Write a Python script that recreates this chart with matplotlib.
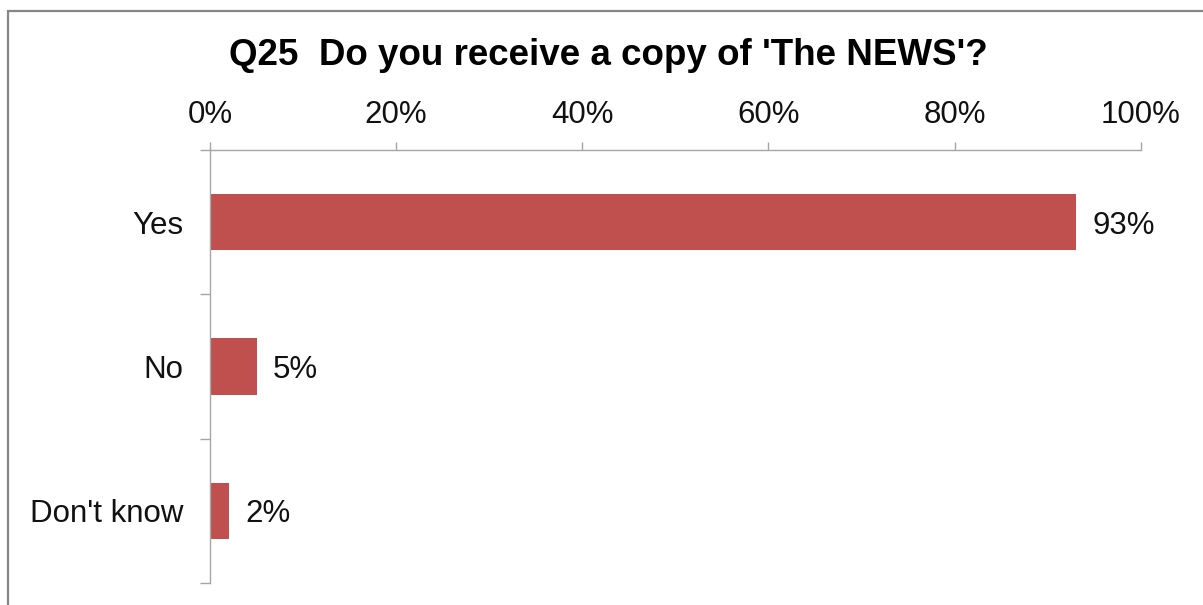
import matplotlib
matplotlib.use("Agg")
import matplotlib.pyplot as plt
from matplotlib.patches import Rectangle
from matplotlib.ticker import FixedLocator, PercentFormatter

categories = ["Yes", "No", "Don't know"]
values = [93, 5, 2]
xticks = [0, 20, 40, 60, 80, 100]
title = "Q25  Do you receive a copy of 'The NEWS'?"

BAR = "#C0504D"
AXIS = "#A6A6A6"
TEXT = "#111111"

plt.rcParams["font.family"] = ["Liberation Sans", "DejaVu Sans"]

fig = plt.figure(figsize=(12.03, 6.05), dpi=100)
ax = fig.add_axes([210 / 1203, 1 - 583 / 605, 930.7 / 1203, 433 / 605])

pos = list(range(len(categories)))
bars = ax.barh(pos, values, height=0.39, color=BAR)

ax.set_xlim(0, 100)
ax.set_ylim(len(categories) - 0.5, -0.5)

ax.xaxis.tick_top()
ax.set_xticks(xticks)
ax.xaxis.set_major_formatter(PercentFormatter(decimals=0))
ax.tick_params(axis="x", which="major", length=6, width=1, color=AXIS,
               labelsize=22.5, pad=8.5, labelcolor=TEXT)

ax.set_yticks(pos)
ax.set_yticklabels(categories)
ax.yaxis.set_minor_locator(FixedLocator([p - 0.5 for p in pos] + [len(pos) - 0.5]))
ax.tick_params(axis="y", which="major", length=0, labelsize=22.5, pad=19,
               labelcolor=TEXT)
ax.tick_params(axis="y", which="minor", length=7, width=1, color=AXIS)

for side in ("right", "bottom"):
    ax.spines[side].set_visible(False)
for side in ("left", "top"):
    ax.spines[side].set_color(AXIS)
    ax.spines[side].set_linewidth(1)

for b, v in zip(bars, values):
    ax.annotate(f"{v}%", (b.get_width(), b.get_y() + b.get_height() / 2),
                xytext=(12, 0), textcoords="offset points",
                va="center_baseline", ha="left", fontsize=22.5, color=TEXT)

fig.text(608 / 1203, 1 - 65 / 605, title, ha="center", va="baseline",
         fontsize=26.5, fontweight="bold", color="#000000")

fig.patches.append(Rectangle((8 / 1203, -0.05), 1.2, 1 - 11 / 605 + 0.05,
                             transform=fig.transFigure, fill=False,
                             edgecolor="#868686", linewidth=1.6))

fig.savefig("out.png", dpi=100, facecolor="white")
